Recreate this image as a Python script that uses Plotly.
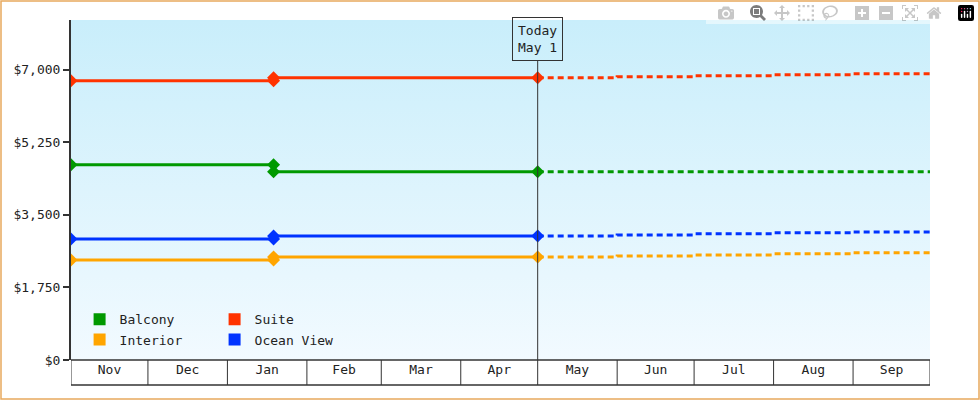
import plotly.graph_objects as go

# ---- data ----
names = ["Balcony", "Suite", "Interior", "Ocean View"]
colors = ["#009900", "#ff3300", "#ffa500", "#0033ff"]
hist_dates = ["2023-11-01", "2024-01-19", "2024-01-19", "2024-05-01"]
hist_vals = {
    "Balcony":    [4707, 4707, 4538, 4538],
    "Suite":      [6734, 6734, 6806, 6806],
    "Interior":   [2414, 2414, 2486, 2486],
    "Ocean View": [2921, 2921, 2993, 2993],
}
fut_dates = ["2024-05-01", "2024-06-01", "2024-07-01", "2024-08-01", "2024-09-01", "2024-10-01"]
fut_vals = {
    "Balcony":    [4538, 4538, 4538, 4538, 4538, 4538],
    "Suite":      [6806, 6830, 6855, 6880, 6904, 6927],
    "Interior":   [2486, 2510, 2535, 2560, 2584, 2607],
    "Ocean View": [2993, 3017, 3042, 3066, 3090, 3114],
}
month_starts = ["2023-11-01", "2023-12-01", "2024-01-01", "2024-02-01", "2024-03-01", "2024-04-01",
                "2024-05-01", "2024-06-01", "2024-07-01", "2024-08-01", "2024-09-01", "2024-10-01"]
ytick_vals = [0, 1750, 3500, 5250, 7000]
ytick_text = ["$0", "$1,750", "$3,500", "$5,250", "$7,000"]
x_range = ["2023-11-01", "2024-10-01"]
y_range = [0, 8200]
today = "2024-05-01"

FONT = "DejaVu Sans Mono"
fig = go.Figure()

# gradient background
fig.add_trace(go.Scatter(
    x=[x_range[0], x_range[1], x_range[1], x_range[0], x_range[0]],
    y=[y_range[0], y_range[0], y_range[1], y_range[1], y_range[0]],
    mode="none", fill="toself", showlegend=False, hoverinfo="skip",
    fillgradient=dict(type="vertical", colorscale=[[0, "#f2faff"], [1, "#c9eefb"]])))

for n, c in zip(names, colors):
    fig.add_trace(go.Scatter(x=fut_dates, y=fut_vals[n], mode="lines", showlegend=False,
                             line=dict(color=c, width=3, dash="6px,4px", shape="hv")))
    fig.add_trace(go.Scatter(x=hist_dates, y=hist_vals[n], mode="lines+markers", showlegend=False,
                             line=dict(color=c, width=3),
                             marker=dict(symbol="diamond", size=10, color=c)))

for i, (n, c) in enumerate(zip(names, colors)):
    fig.add_trace(go.Scatter(x=[None], y=[None], mode="markers", name=n,
                             marker=dict(symbol="square", size=12, color=c),
                             legend="legend" if i < 2 else "legend2"))

shapes = []
shapes.append(dict(type="line", xref="x", yref="paper", x0=today, x1=today, y0=0, y1=0.88,
                   line=dict(color="#333", width=1)))
for d in month_starts:
    shapes.append(dict(type="line", xref="x", yref="paper", x0=d, x1=d, y0=0, y1=-25/340,
                       line=dict(color="#333", width=1)))
shapes.append(dict(type="line", xref="paper", yref="paper", x0=0, x1=1, y0=0, y1=0,
                   line=dict(color="#333", width=1.5)))
shapes.append(dict(type="line", xref="paper", yref="paper", x0=0, x1=1, y0=-25/340, y1=-25/340,
                   line=dict(color="#333", width=1.5)))
shapes.append(dict(type="rect", xref="paper", yref="paper", x0=-70/859, x1=908/859,
                   y0=-39/340, y1=359/340, line=dict(color="#e8a95e", width=1.5)))

fig.update_layout(
    width=980, height=400, margin=dict(l=71, r=50, t=20, b=40, autoexpand=False),
    paper_bgcolor="white", plot_bgcolor="white",
    font=dict(family=FONT, size=13, color="#222"),
    shapes=shapes,
    xaxis=dict(type="date", range=x_range, tick0="2023-11-01", dtick="M1", tickformat="%b",
               ticklabelmode="period", ticks="", showgrid=False, showline=False,
               zeroline=False, tickfont=dict(size=13), automargin=False),
    yaxis=dict(range=y_range, tickvals=ytick_vals, ticktext=ytick_text,
               ticks="outside", ticklen=6, tickcolor="#333", tickwidth=2, automargin=False,
               showline=True, linecolor="#333", linewidth=2, showgrid=False, zeroline=False),
    legend=dict(orientation="h", x=0.01, y=0.12, xanchor="left", yanchor="middle",
                entrywidth=90, bgcolor="rgba(0,0,0,0)", itemclick=False,
                font=dict(size=13)),
    legend2=dict(orientation="h", x=0.01, y=0.06, xanchor="left", yanchor="middle",
                 entrywidth=90, bgcolor="rgba(0,0,0,0)", font=dict(size=13)),
    annotations=[dict(xref="x", yref="paper", x=today, y=0.88, yanchor="bottom",
                      text="Today<br>May 1", showarrow=False, bordercolor="#333",
                      borderwidth=1, borderpad=5, bgcolor="rgba(0,0,0,0)",
                      font=dict(size=13))],
    showlegend=True,
)
fig.write_html("out.html")
with open("out.html") as f:
    html = f.read()
html = html.replace("<head>", "<head><style>body{margin:0;}</style>", 1)
with open("out.html", "w") as f:
    f.write(html)
